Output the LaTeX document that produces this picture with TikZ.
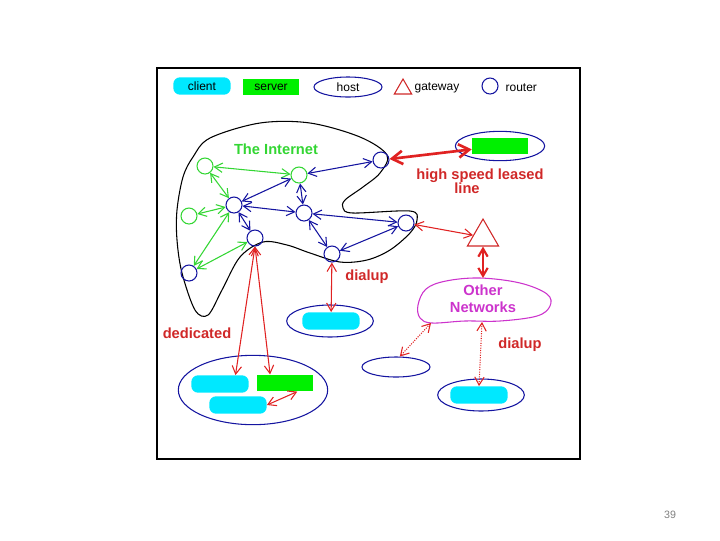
\documentclass[tikz,border=0pt]{standalone}
\usepackage{fontspec}
\setmainfont{Liberation Sans}
\usepackage{tikz}
\usetikzlibrary{
  arrows.meta,
  positioning,
  calc,
  shapes.geometric,
  shapes.misc
}
\definecolor{navy}{HTML}{1414A0}
\definecolor{netgreen}{HTML}{33D633}
\definecolor{netred}{HTML}{E02222}
\definecolor{labred}{HTML}{D02828}
\definecolor{netmag}{HTML}{CC33CC}
\definecolor{clicyan}{HTML}{00E8FF}
\definecolor{srvgreen}{HTML}{00F000}

\begin{document}
\begin{tikzpicture}[
        x=0.75pt, y=-0.75pt,
        >={Straight Barb[length=6pt,width=7pt]},
        rot/.style={circle, draw=navy, thick, minimum size=12pt, inner sep=0pt},
        grot/.style={circle, draw=netgreen, thick, minimum size=12pt, inner sep=0pt},
        cli/.style={fill=clicyan, rounded corners=5pt, minimum width=43pt,
                    minimum height=13pt, inner sep=0pt, font=\fontsize{9}{10}\selectfont},
        srv/.style={fill=srvgreen, minimum width=42pt, minimum height=12.5pt,
                    inner sep=0pt, font=\fontsize{9}{10}\selectfont},
        hst/.style={ellipse, draw=navy, thick, inner sep=0pt},
        gtw/.style={regular polygon, regular polygon sides=3, draw=labred, thick, inner sep=0pt},
        leg/.style={font=\fontsize{9}{10}\selectfont, inner sep=1pt},
        lab/.style={font=\fontsize{11}{12}\selectfont\bfseries, text=labred, inner sep=0pt},
        bseta/.style={<->, thick, navy},
        gseta/.style={<->, thick, netgreen},
        rseta/.style={<->, thick, netred},
        dseta/.style={<->, thick, netred, densely dotted}
    ]
        \useasboundingbox (0,0) rectangle (720,540);
        \draw[line width=1.6pt] (157,68) rectangle (580,459);
        % legend
        \node[cli] (lcli) at (202,86) {client};
        \node[srv] (lsrv) at (271,87) {server};
        \node[hst, minimum width=51pt, minimum height=15pt, leg] (lhst) at (348,87) {host};
        \node[gtw, minimum size=15pt] (lgtw) at (403,89) {};
        \node[leg, anchor=west] (lgtwt) at (413,88) {gateway};
        \node[rot] (lrot) at (490,86) {};
        \node[leg, anchor=west] (lrott) at (504,88) {router};
        % the internet
        \draw[thick] plot[smooth cycle, tension=0.55] coordinates {
            (210,138) (260,123) (310,123) (360,137) (387,155) (380,173)
            (363,187) (345,200) (343,208) (353,213) (410,211) (417,220)
            (410,233) (390,250) (367,260) (340,262) (310,253) (287,245)
            (263,242) (240,257) (222,290) (208,315) (195,310) (182,273)
            (177,240) (177,210) (183,177) (193,157)};
        \node[font=\fontsize{11}{12}\selectfont\bfseries, text=netgreen] (inet) at (276,149) {The Internet};
        \node[rot] (r1) at (381,160) {};
        \node[grot] (r2) at (299,175) {};
        \node[grot] (g1) at (205,166) {};
        \node[grot] (g2) at (189,216) {};
        \node[rot] (r3) at (234,205) {};
        \node[rot] (r4) at (304,213) {};
        \node[rot] (r5) at (406,223) {};
        \node[rot] (r6) at (255,238) {};
        \node[rot] (r7) at (332,254) {};
        \node[rot] (r8) at (189,273) {};
        \draw[gseta] (g1)--(r2); \draw[gseta] (g1)--(r3);
        \draw[gseta] (g2)--(r3); \draw[gseta] (r3)--(r8);
        \draw[gseta] (r6)--(r8);
        \draw[bseta] (r2)--(r1); \draw[bseta] (r2)--(r3);
        \draw[bseta] (r2)--(r4); \draw[bseta] (r3)--(r4);
        \draw[bseta] (r3)--(r6); \draw[bseta] (r4)--(r5);
        \draw[bseta] (r4)--(r7); \draw[bseta] (r7)--(r5);
        % leased line
        \node[hst, minimum width=67pt, minimum height=22pt] (h1) at (500,146) {};
        \node[srv] (s1) at (500,146) {};
        \draw[<->, line width=2pt, netred, >={Straight Barb[length=8pt,width=10pt]}] (r1)--(s1);
        \node[lab] (lsl) at (480,176) {high speed leased};
        \node[lab] (lsl2) at (467,188) {line};
        % gateway and other networks
        \node[gtw, minimum size=27pt] (gw) at (483,237) {};
        \draw[rseta] (r5)--(gw);
        \draw[netmag, thick] plot[smooth cycle, tension=0.6] coordinates {
            (418,305) (426,289) (446,281) (480,278) (520,283) (547,294)
            (550,306) (537,316) (500,321) (465,321) (432,323) (420,318)};
        \node[font=\fontsize{11}{12.5}\selectfont\bfseries, text=netmag, align=center] (on) at (483,299) {Other\\Networks};
        \coordinate (ontop) at (483,278);
        \coordinate (onbl) at (431,323);
        \coordinate (onb) at (482,322);
        \draw[<->, line width=1.6pt, netred] (gw)--(ontop);
        % dialup host
        \node[hst, minimum width=65pt, minimum height=24pt] (h2) at (330,321) {};
        \node[cli] (c1) at (331,321) {};
        \draw[rseta] (r7)--(c1);
        \node[lab] (ld1) at (367,277) {dialup};
        % dedicated
        \node[hst, minimum width=112pt, minimum height=52pt] (h3) at (253,390) {};
        \node[cli] (ca) at (220,384) {};
        \node[srv] (sa) at (285,383) {};
        \node[cli] (cb) at (238,405) {};
        \draw[rseta] (r6.south)--(ca.30);
        \draw[rseta] (r6.south)--(sa.150);
        \draw[rseta] (sa.-35)--(cb.east);
        \node[lab] (lded) at (197,333) {dedicated};
        % dialup from other networks
        \node[hst, minimum width=51pt, minimum height=15pt] (h4) at (396,367) {};
        \node[hst, minimum width=65pt, minimum height=24pt] (h5) at (481,395) {};
        \node[cli] (c3) at (479,395) {};
        \draw[dseta] (onbl)--(h4.70);
        \draw[dseta] (onb)--(c3.north);
        \node[lab] (ld2) at (520,345) {dialup};
        \node[font=\fontsize{8}{9}\selectfont, text=gray] (pg) at (670,515) {39};
    \end{tikzpicture}
\end{document}
